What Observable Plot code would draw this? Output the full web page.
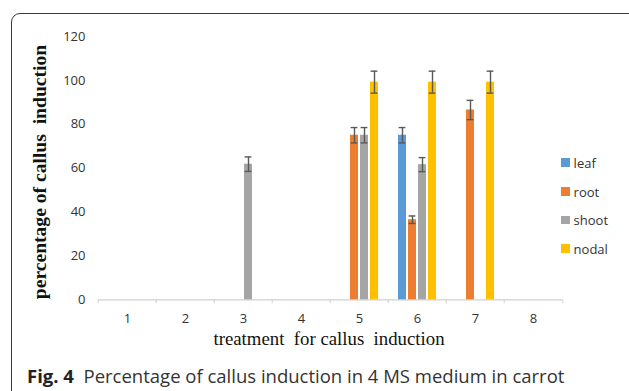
<!DOCTYPE html>
<html>
<head>
<meta charset="utf-8">
<script src="https://cdn.jsdelivr.net/npm/d3@7"></script>
<script src="https://cdn.jsdelivr.net/npm/@observablehq/plot@0.6"></script>
<style>
  html, body { margin: 0; padding: 0; background: #fff; overflow: hidden; }
  #wrap { position: relative; width: 629px; height: 391px; overflow: hidden; font-family: "Open Sans", sans-serif; }
  #box { position: absolute; left: 11px; top: 13px; width: 700px; height: 420px; border: 1.3px solid #3a3a3a; border-radius: 9px; box-sizing: border-box; }
  #chart { position: absolute; left: 0; top: 0; }
  #ytitle { position: absolute; left: 39.5px; top: 171.5px; transform: translate(-50%, -50%) rotate(-90deg); font-family: "Liberation Serif", serif; font-weight: bold; font-size: 19.6px; white-space: pre; color: #111; line-height: 1; }
  #xtitle { position: absolute; left: 329px; top: 339px; transform: translate(-50%, -50%); font-family: "Liberation Serif", serif; font-size: 18.8px; white-space: pre; color: #111; line-height: 1; }
  #legend { position: absolute; left: 561px; top: 0; }
  .item { position: absolute; left: 0; display: flex; align-items: center; transform: translateY(-50%); white-space: nowrap; font-size: 13px; color: #333; }
  .sw { width: 8.6px; height: 8.6px; margin-right: 4px; flex: none; }
  #caption { position: absolute; left: 27px; top: 376px; transform: translateY(-50%); font-family: "Open Sans", sans-serif; font-size: 18.5px; color: #333; white-space: pre; line-height: 1; }
  #caption b { color: #222; }
</style>
</head>
<body>
<div id="wrap">
  <div id="box"></div>
  <div id="chart"></div>
  <div id="ytitle">percentage of callus  induction</div>
  <div id="xtitle">treatment  for callus  induction</div>
  <div id="legend"></div>
  <div id="caption"><b>Fig. 4</b>  Percentage of callus induction in 4 MS medium in carrot</div>
</div>
<script>
const treatments = [1, 2, 3, 4, 5, 6, 7, 8];
const tissues = ["leaf", "root", "shoot", "nodal"];
const colors = ["#5B9BD5", "#ED7D31", "#A5A5A5", "#FFC000"];
const leaf  = [0, 0, 0,    0, 0,    75,   0,    0];
const root  = [0, 0, 0,    0, 75,   36.5, 86.5, 0];
const shoot = [0, 0, 61.8, 0, 75,   61.6, 0,    0];
const nodal = [0, 0, 0,    0, 99.2, 99.2, 99.2, 0];
const leafErr  = [0, 0, 0,   0, 0,   3.5, 0,   0];
const rootErr  = [0, 0, 0,   0, 3.5, 1.7, 4.4, 0];
const shootErr = [0, 0, 3.3, 0, 3.5, 3.2, 0,   0];
const nodalErr = [0, 0, 0,   0, 5,   5,   5,   0];
const yTicks = [0, 20, 40, 60, 80, 100, 120];

const series = {leaf, root, shoot, nodal};
const errs = {leaf: leafErr, root: rootErr, shoot: shootErr, nodal: nodalErr};
const data = [];
for (const t of tissues) {
  treatments.forEach((tr, i) => {
    data.push({treatment: tr, tissue: t, value: series[t][i], err: errs[t][i]});
  });
}
const withErr = data.filter(d => d.err > 0);

const W = 629, H = 360;
const mL = 95, mR = 65, mT = 36, mB = H - 299.3;
const band = (W - mL - mR) / treatments.length;

const chart = Plot.plot({
  width: W,
  height: H,
  marginLeft: mL,
  marginRight: mR,
  marginTop: mT,
  marginBottom: mB,
  style: {fontFamily: "Open Sans, sans-serif", fontSize: "13px", color: "#333", background: "transparent"},
  fx: {domain: treatments, padding: 0, axis: null},
  x: {domain: tissues, paddingInner: 0.18, paddingOuter: 0.93, axis: null},
  y: {domain: [0, 120], axis: null},
  color: {domain: tissues, range: colors},
  marks: [
    Plot.axisY({ticks: yTicks, tickSize: 0, tickPadding: 13, label: null, fontSize: 13}),
    Plot.ruleY([0], {stroke: "#d0d0d0", strokeWidth: 1.2}),
    Plot.axisFx({anchor: "bottom", tickSize: 0, tickPadding: 14, label: null, fontSize: 13}),
    Plot.axisFx({anchor: "bottom", tickSize: 4, tickFormat: () => "", dx: -band / 2, label: null, stroke: "#d0d0d0"}),
    Plot.axisFx({anchor: "bottom", ticks: [8], tickSize: 4, tickFormat: () => "", dx: band / 2, label: null, stroke: "#d0d0d0"}),
    Plot.barY(data, {fx: "treatment", x: "tissue", y: "value", fill: "tissue"}),
    Plot.ruleX(withErr, {fx: "treatment", x: "tissue", y1: d => d.value - d.err, y2: d => d.value + d.err, stroke: "#595959", strokeWidth: 1.4}),
    Plot.tickY(withErr, {fx: "treatment", x: "tissue", y: d => d.value - d.err, stroke: "#595959", strokeWidth: 1.4, inset: 0.6}),
    Plot.tickY(withErr, {fx: "treatment", x: "tissue", y: d => d.value + d.err, stroke: "#595959", strokeWidth: 1.4, inset: 0.6})
  ]
});
document.getElementById("chart").appendChild(chart);

const legendYs = [162.7, 191.7, 220, 248.7];
const legend = document.getElementById("legend");
tissues.forEach((t, i) => {
  const item = document.createElement("div");
  item.className = "item";
  item.style.top = legendYs[i] + "px";
  const sw = document.createElement("span");
  sw.className = "sw";
  sw.style.background = colors[i];
  const label = document.createElement("span");
  label.textContent = t;
  item.appendChild(sw);
  item.appendChild(label);
  legend.appendChild(item);
});
</script>
</body>
</html>
